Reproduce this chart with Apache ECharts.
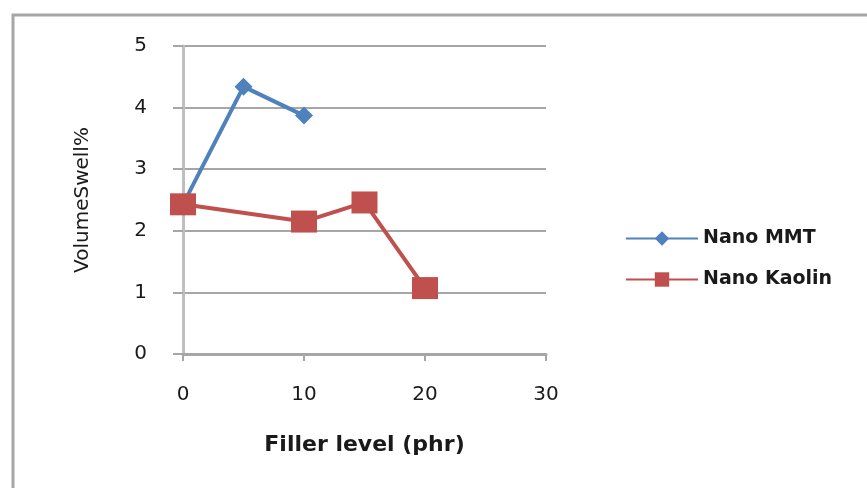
<!DOCTYPE html>
<html>
<head>
<meta charset="utf-8">
<script src="https://cdn.jsdelivr.net/npm/echarts@6/dist/echarts.min.js"></script>
<style>
  html, body { margin: 0; padding: 0; background: #fff; }
  #chart { width: 867px; height: 488px; }
</style>
</head>
<body>
<div id="chart"></div>
<script>
// filler level (phr) and volume swell values
var mmtX = [0, 5, 10]
var mmtY = [2.43, 4.34, 3.87]
var kaolinX = [0, 10, 15, 20]
var kaolinY = [2.43, 2.15, 2.46, 1.07]
var seriesNames = ['Nano MMT', 'Nano Kaolin']

function pairs(xs, ys) {
  return xs.map(function (x, i) { return [x, ys[i]] })
}

var chart = echarts.init(document.getElementById('chart'))
chart.setOption({
  backgroundColor: '#fff',
  animation: false,
  graphic: [{
    type: 'rect',
    shape: { x: 13, y: 15, width: 900, height: 520 },
    style: { fill: 'none', stroke: '#a6a6a6', lineWidth: 3 },
    silent: true
  }],
  grid: { left: 183, top: 46, right: 321, bottom: 134 },
  legend: {
    orient: 'vertical',
    left: 620,
    top: 224,
    itemWidth: 72,
    itemHeight: 18,
    itemGap: 22,
    textStyle: { fontFamily: 'DejaVu Sans', fontSize: 19, fontWeight: 'bold', color: '#1a1a1a' },
    data: seriesNames
  },
  xAxis: {
    type: 'value',
    min: 0,
    max: 30,
    interval: 10,
    name: 'Filler level (phr)',
    nameLocation: 'middle',
    nameGap: 80,
    nameTextStyle: { fontFamily: 'DejaVu Sans', fontSize: 22, fontWeight: 'bold', color: '#1a1a1a' },
    axisLine: { show: true, lineStyle: { color: '#a6a6a6', width: 3 } },
    axisTick: { show: true, length: 7, lineStyle: { color: '#a6a6a6', width: 2 } },
    axisLabel: { margin: 31, fontFamily: 'DejaVu Sans', fontSize: 20, color: '#1a1a1a' },
    splitLine: { show: false }
  },
  yAxis: {
    type: 'value',
    min: 0,
    max: 5,
    interval: 1,
    name: 'VolumeSwell%',
    nameLocation: 'middle',
    nameGap: 90,
    nameTextStyle: { fontFamily: 'DejaVu Sans', fontSize: 20, color: '#1a1a1a' },
    axisLine: { show: true, lineStyle: { color: '#bfbfbf', width: 3 } },
    axisTick: { show: true, inside: false, length: 10, lineStyle: { color: '#a6a6a6', width: 2 } },
    axisLabel: { margin: 36, fontFamily: 'DejaVu Sans', fontSize: 20, color: '#1a1a1a' },
    splitLine: { show: true, lineStyle: { color: '#a6a6a6', width: 2 } }
  },
  series: [
    {
      name: seriesNames[0],
      type: 'line',
      data: pairs(mmtX, mmtY),
      symbol: 'diamond',
      symbolSize: 18,
      lineStyle: { color: '#4f81bd', width: 4 },
      itemStyle: { color: '#4f81bd' }
    },
    {
      name: seriesNames[1],
      type: 'line',
      data: pairs(kaolinX, kaolinY),
      symbol: 'rect',
      symbolSize: [26, 22],
      lineStyle: { color: '#c0504d', width: 4 },
      itemStyle: { color: '#c0504d' }
    }
  ]
})
</script>
</body>
</html>
